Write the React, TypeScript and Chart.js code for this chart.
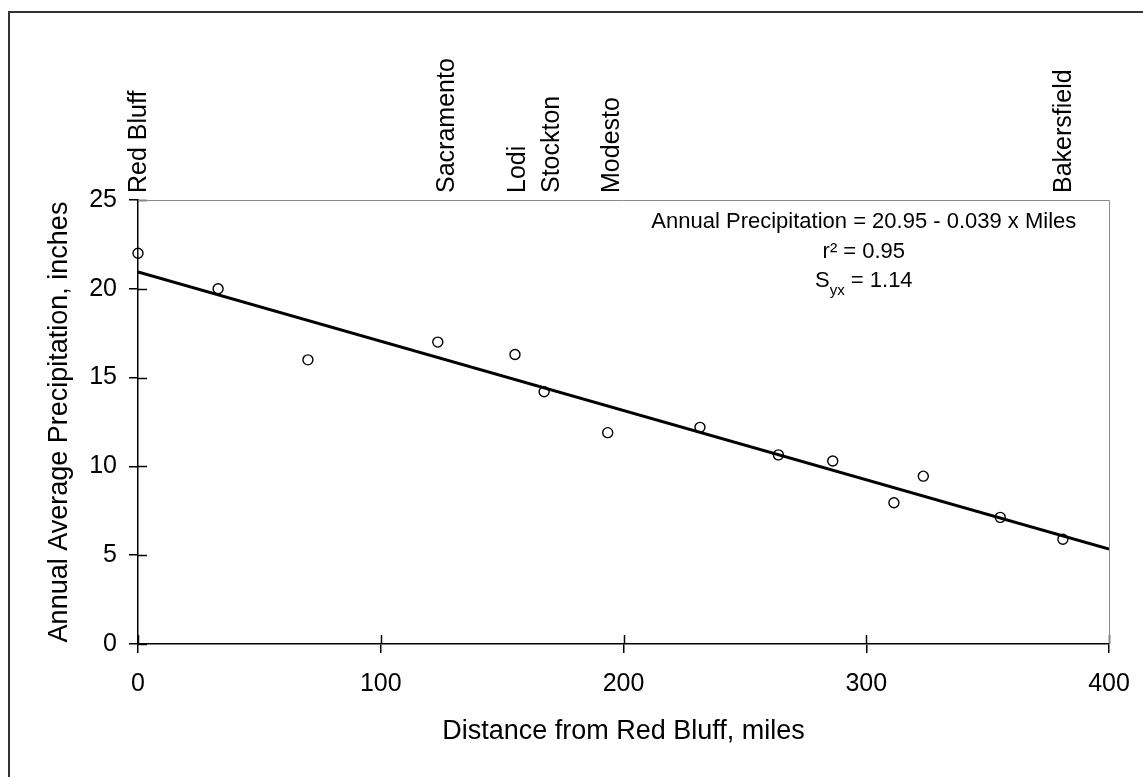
import React, { useEffect, useRef } from "react";
import { Chart, registerables } from "chart.js";

Chart.register(...registerables);

// ---- data ----
const milesFromRedBluff = [0, 33, 70, 123.5, 155.3, 167.3, 193.5, 231.5, 263.8, 286.2, 311.4, 323.5, 355.2, 381];
const annualPrecipInches = [22.0, 20.0, 16.0, 17.0, 16.3, 14.2, 11.9, 12.2, 10.65, 10.3, 7.95, 9.45, 7.13, 5.9];

const cityNames = ["Red Bluff", "Sacramento", "Lodi", "Stockton", "Modesto", "Bakersfield"];
const cityMiles = [0, 127, 156, 170, 195, 381];

const xTickValues = [0, 100, 200, 300, 400];
const yTickValues = [0, 5, 10, 15, 20, 25];

const regressionIntercept = 20.95;
const regressionSlope = -0.039;
const regressionRange = [0, 400];

const equationText = "Annual Precipitation = 20.95 - 0.039 x Miles";
const r2Text = "r\u00B2 = 0.95";
const syxMain = "S";
const syxSub = "yx";
const syxRest = " = 1.14";

const xTitle = "Distance from Red Bluff, miles";
const yTitle = "Annual Average Precipitation, inches";

const FONT = "'Liberation Sans', Arial, Helvetica, sans-serif";

const decorPlugin = {
  id: "decor",
  afterDraw(chart: any) {
    const { ctx, chartArea, scales } = chart;
    const xs = scales.x;
    const ys = scales.y;
    ctx.save();
    // inner halves of tick marks
    ctx.strokeStyle = "#000";
    ctx.lineWidth = 1.5;
    xs.ticks.forEach((t: any) => {
      const px = Math.round(xs.getPixelForValue(t.value)) + 0.5;
      ctx.beginPath();
      ctx.moveTo(px, chartArea.bottom);
      ctx.lineTo(px, chartArea.bottom - 9);
      ctx.stroke();
    });
    ys.ticks.forEach((t: any) => {
      const py = Math.round(ys.getPixelForValue(t.value)) + 0.5;
      ctx.beginPath();
      ctx.moveTo(chartArea.left, py);
      ctx.lineTo(chartArea.left + 9, py);
      ctx.stroke();
    });
    // thin frame on top and right
    ctx.strokeStyle = "#8a8a8a";
    ctx.lineWidth = 1;
    ctx.beginPath();
    ctx.moveTo(chartArea.left, Math.round(chartArea.top) + 0.5);
    ctx.lineTo(Math.round(chartArea.right) + 0.5, Math.round(chartArea.top) + 0.5);
    ctx.lineTo(Math.round(chartArea.right) + 0.5, chartArea.bottom);
    ctx.stroke();

    // city labels along the top, positioned through the x scale
    ctx.fillStyle = "#000";
    ctx.font = `25px ${FONT}`;
    ctx.textAlign = "left";
    ctx.textBaseline = "middle";
    cityNames.forEach((name, i) => {
      const px = xs.getPixelForValue(cityMiles[i]);
      ctx.save();
      ctx.translate(px + 1, chartArea.top - 7);
      ctx.rotate(-Math.PI / 2);
      ctx.fillText(name, 0, 0);
      ctx.restore();
    });

    // regression statistics text
    const cx = xs.getPixelForValue(299);
    const top = chartArea.top;
    ctx.fillStyle = "#000";
    ctx.textBaseline = "alphabetic";
    ctx.textAlign = "left";
    ctx.font = `22px ${FONT}`;
    let w = ctx.measureText(equationText).width;
    ctx.fillText(equationText, cx - w / 2, top + 28);
    w = ctx.measureText(r2Text).width;
    ctx.fillText(r2Text, cx - w / 2, top + 58);
    const wS = ctx.measureText(syxMain).width;
    const wR = ctx.measureText(syxRest).width;
    ctx.font = `15px ${FONT}`;
    const wSub = ctx.measureText(syxSub).width;
    const total = wS + wSub + wR;
    let sx = cx - total / 2;
    ctx.font = `22px ${FONT}`;
    ctx.fillText(syxMain, sx, top + 87);
    sx += wS;
    ctx.font = `15px ${FONT}`;
    ctx.fillText(syxSub, sx, top + 95);
    sx += wSub;
    ctx.font = `22px ${FONT}`;
    ctx.fillText(syxRest, sx, top + 87);
    ctx.restore();
  },
};

export default function App() {
  const canvasRef = useRef<HTMLCanvasElement | null>(null);

  useEffect(() => {
    if (!canvasRef.current) return;
    const points = milesFromRedBluff.map((m, i) => ({ x: m, y: annualPrecipInches[i] }));
    const fitLine = regressionRange.map((m) => ({ x: m, y: regressionIntercept + regressionSlope * m }));

    const chart = new Chart(canvasRef.current, {
      type: "scatter",
      data: {
        datasets: [
          {
            label: "Stations",
            data: points,
            pointStyle: "circle",
            pointRadius: 5,
            pointBorderWidth: 1.4,
            pointBorderColor: "#000",
            pointBackgroundColor: "rgba(255,255,255,0)",
            showLine: false,
            clip: false as any,
            xAxisID: "x",
            yAxisID: "y",
          },
          {
            type: "line" as any,
            label: "Fit",
            data: fitLine,
            borderColor: "#000",
            borderWidth: 3,
            pointRadius: 0,
            showLine: true,
            fill: false,
            xAxisID: "x",
            yAxisID: "y",
          } as any,
        ],
      },
      options: {
        animation: false,
        responsive: false,
        devicePixelRatio: 1,
        layout: { padding: { left: 0, right: 34, top: 200, bottom: 0 } },
        plugins: { legend: { display: false }, tooltip: { enabled: false } },
        scales: {
          x: {
            type: "linear",
            position: "bottom",
            min: 0,
            max: 400,
            afterBuildTicks: (s: any) => {
              s.ticks = xTickValues.map((v) => ({ value: v }));
            },
            afterFit: (s: any) => {
              s.height = 133;
              s.paddingLeft = 0;
              s.paddingRight = 0;
            },
            grid: { display: true, drawOnChartArea: false, drawTicks: true, tickLength: 9, color: "#000", lineWidth: 1.5 },
            border: { display: true, color: "#000", width: 1.5 },
            ticks: { padding: 16, color: "#000", font: { family: FONT, size: 25 }, maxRotation: 0, autoSkip: false },
            title: {
              display: true,
              text: xTitle,
              color: "#000",
              font: { family: FONT, size: 27 },
              padding: { top: 0, bottom: 29 },
            },
          },
          y: {
            type: "linear",
            position: "left",
            min: 0,
            max: 25,
            afterBuildTicks: (s: any) => {
              s.ticks = yTickValues.map((v) => ({ value: v }));
            },
            afterFit: (s: any) => {
              s.width = 138;
              s.paddingTop = 0;
              s.paddingBottom = 0;
            },
            grid: { display: true, drawOnChartArea: false, drawTicks: true, tickLength: 9, color: "#000", lineWidth: 1.5 },
            border: { display: true, color: "#000", width: 1.5 },
            ticks: { padding: 12, color: "#000", font: { family: FONT, size: 25 }, autoSkip: false },
            title: {
              display: true,
              text: yTitle,
              color: "#000",
              font: { family: FONT, size: 27 },
              padding: { top: 43, bottom: 0 },
            },
          },
        },
      },
      plugins: [decorPlugin],
    });
    return () => chart.destroy();
  }, []);

  return (
    <div style={{ position: "absolute", left: 0, top: 0, width: 1143, height: 777, overflow: "hidden", background: "#fff" }}>
      <canvas ref={canvasRef} width={1143} height={777} style={{ position: "absolute", left: 0, top: 0 }} />
      <div
        style={{
          position: "absolute",
          left: 8,
          top: 11,
          width: 1200,
          height: 800,
          border: "2px solid #333",
          boxSizing: "border-box",
          pointerEvents: "none",
        }}
      />
    </div>
  );
}
